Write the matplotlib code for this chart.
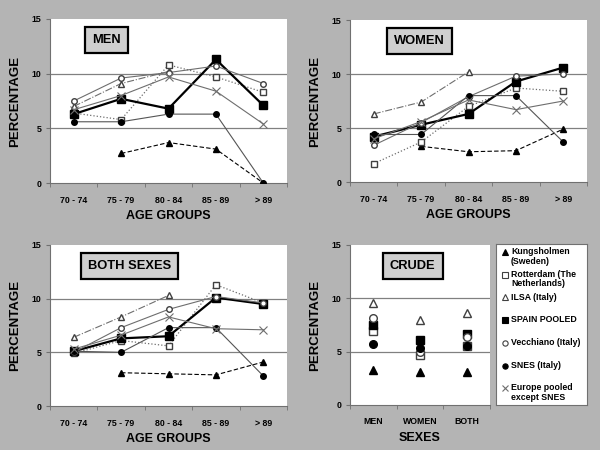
import numpy as np
import matplotlib.pyplot as plt
from matplotlib.ticker import FixedLocator

plt.rcParams["font.family"] = ["Liberation Sans", "DejaVu Sans"]
plt.rcParams["font.weight"] = "bold"

nan = np.nan

# ============================================
# Data
# ============================================

age_groups = ["70 - 74", "75 - 79", "80 - 84", "85 - 89", "> 89"]
sexes = ["MEN", "WOMEN", "BOTH"]

series_names = [
    "Kungsholmen\n(Sweden)",
    "Rotterdam (The\nNetherlands)",
    "ILSA (Italy)",
    "SPAIN POOLED",
    "Vecchiano (Italy)",
    "SNES (Italy)",
    "Europe pooled\nexcept SNES",
]

kungsholmen_men = [nan, 2.7, 3.7, 3.1, 0.0]
rotterdam_men = [6.4, 5.8, 10.8, 9.7, 8.3]
ilsa_men = [7.0, 9.1, 10.2, nan, nan]
spain_men = [6.3, 7.7, 6.8, 11.3, 7.1]
vecchiano_men = [7.5, 9.6, 10.1, 10.7, 9.1]
snes_men = [5.6, 5.6, 6.3, 6.3, 0.0]
europe_men = [6.7, 8.0, 9.7, 8.4, 5.4]

kungsholmen_women = [nan, 3.3, 2.8, 2.9, 4.9]
rotterdam_women = [1.7, 3.7, 7.0, 8.7, 8.4]
ilsa_women = [6.3, 7.4, 10.2, nan, nan]
spain_women = [4.2, 5.3, 6.3, 9.3, 10.6]
vecchiano_women = [3.4, 5.5, 7.9, 9.8, 10.0]
snes_women = [4.4, 4.4, 8.0, 8.0, 3.7]
europe_women = [4.0, 5.6, 7.6, 6.7, 7.5]

kungsholmen_both = [nan, 3.1, 3.0, 2.9, 4.1]
rotterdam_both = [4.9, 6.1, 5.6, 11.3, 9.6]
ilsa_both = [6.4, 8.3, 10.3, nan, nan]
spain_both = [5.1, 6.3, 6.5, 10.1, 9.5]
vecchiano_both = [5.0, 7.3, 9.0, 10.2, 9.6]
snes_both = [5.1, 5.0, 7.3, 7.3, 2.8]
europe_both = [5.3, 6.6, 8.3, 7.2, 7.1]

kungsholmen_crude = [3.3, 3.1, 3.1]
rotterdam_crude = [6.9, 4.7, 5.5]
ilsa_crude = [9.6, 8.0, 8.6]
spain_crude = [7.5, 6.1, 6.7]
vecchiano_crude = [8.2, 5.0, 6.4]
snes_crude = [5.7, 5.3, 5.5]
europe_crude = [nan, nan, nan]

# ============================================
# Styles
# ============================================

grey = "#6e6e6e"
styles = [
    dict(color="black", ls=(0, (4, 2)), lw=0.8, marker="^", mfc="black", mec="black", ms=4),
    dict(color=grey, ls=":", lw=0.9, marker="s", mfc="white", mec="#404040", ms=4),
    dict(color=grey, ls="-.", lw=0.8, marker="^", mfc="white", mec="#404040", ms=4),
    dict(color="black", ls="-", lw=1.6, marker="s", mfc="black", mec="black", ms=5.5),
    dict(color=grey, ls="-", lw=0.8, marker="o", mfc="white", mec="#404040", ms=4),
    dict(color="#555555", ls="-", lw=0.8, marker="o", mfc="black", mec="black", ms=4),
    dict(color=grey, ls="-", lw=0.8, marker="x", mfc="none", mec=grey, ms=6, mew=0.8),
]

bg = "#b4b4b4"

fig = plt.figure(figsize=(6, 4.5), dpi=100, facecolor=bg)


def px_axes(left, top, right, bottom):
    return fig.add_axes([left / 600, 1 - bottom / 450, (right - left) / 600, (bottom - top) / 450])


def style_axes(ax, cats, xlabel, title, title_x):
    ax.set_facecolor("white")
    ax.set_ylim(0, 15)
    ax.set_yticks([0, 5, 10, 15])
    ax.set_xlim(-0.5, len(cats) - 0.5)
    ax.set_xticks(range(len(cats)))
    ax.set_xticklabels(cats)
    ax.xaxis.set_minor_locator(FixedLocator(np.arange(-0.5, len(cats), 1.0)))
    ax.tick_params(axis="x", which="major", length=0, labelsize=6.3, pad=9)
    ax.tick_params(axis="x", which="minor", length=3, color="#707070")
    ax.tick_params(axis="y", length=3, color="#707070", labelsize=6.3, pad=3)
    for s in ["top", "right"]:
        ax.spines[s].set_visible(False)
    for s in ["left", "bottom"]:
        ax.spines[s].set_color("#707070")
        ax.spines[s].set_linewidth(0.8)
    for v in [5, 10]:
        ax.axhline(v, color="#808080", lw=0.9, zorder=0)
    ax.set_xlabel(xlabel, fontsize=9, fontweight="bold", labelpad=4)
    ax.set_ylabel("PERCENTAGE", fontsize=9.5, fontweight="bold", labelpad=8)
    ax.text(title_x, 0.87, title, transform=ax.transAxes, ha="center", va="center",
            fontsize=9.3, fontweight="bold",
            bbox=dict(boxstyle="square,pad=0.55", fc="#cfcfcf", ec="black", lw=1.6))


panels = [
    ((50, 19, 287, 183), "MEN", 0.24,
     [kungsholmen_men, rotterdam_men, ilsa_men, spain_men, vecchiano_men, snes_men, europe_men]),
    ((350, 20, 587, 182), "WOMEN", 0.293,
     [kungsholmen_women, rotterdam_women, ilsa_women, spain_women, vecchiano_women, snes_women, europe_women]),
    ((50, 245, 287, 406), "BOTH SEXES", 0.335,
     [kungsholmen_both, rotterdam_both, ilsa_both, spain_both, vecchiano_both, snes_both, europe_both]),
]

for box, title, tx, data in panels:
    ax = px_axes(*box)
    x = np.arange(len(age_groups))
    for vals, st in zip(data, styles):
        v = np.array(vals, dtype=float)
        ok = ~np.isnan(v)
        ax.plot(x[ok], v[ok], **st, zorder=3)
    style_axes(ax, age_groups, "AGE GROUPS", title, tx)

# ============================================
# Crude panel (markers only)
# ============================================

ax = px_axes(350, 245, 490, 405)
crude = [kungsholmen_crude, rotterdam_crude, ilsa_crude, spain_crude,
         vecchiano_crude, snes_crude, europe_crude]
xc = np.arange(len(sexes))
for vals, st in zip(crude, styles):
    st2 = dict(st)
    st2["ls"] = "none"
    st2["ms"] = 5.5
    ax.plot(xc, vals, **st2, zorder=3)
style_axes(ax, sexes, "SEXES", "CRUDE", 0.448)

# ============================================
# Legend box
# ============================================

lax = px_axes(496, 244, 587, 405)
lax.set_xlim(0, 1)
lax.set_ylim(0, 1)
lax.set_xticks([])
lax.set_yticks([])
for s in lax.spines.values():
    s.set_color("#707070")
    s.set_linewidth(0.8)

for i, (name, st) in enumerate(zip(series_names, styles)):
    y = 1 - 0.05 - i * 0.141
    lax.plot([0.1], [y], ls="none", marker=st["marker"], mfc=st["mfc"], mec=st["mec"],
             ms=3.8, mew=st.get("mew", 0.8))
    lax.text(0.165, y + 0.03, name, fontsize=6.3, fontweight="bold", va="top", ha="left",
             linespacing=1.05)

fig.savefig("out.png", dpi=100, facecolor=bg)
